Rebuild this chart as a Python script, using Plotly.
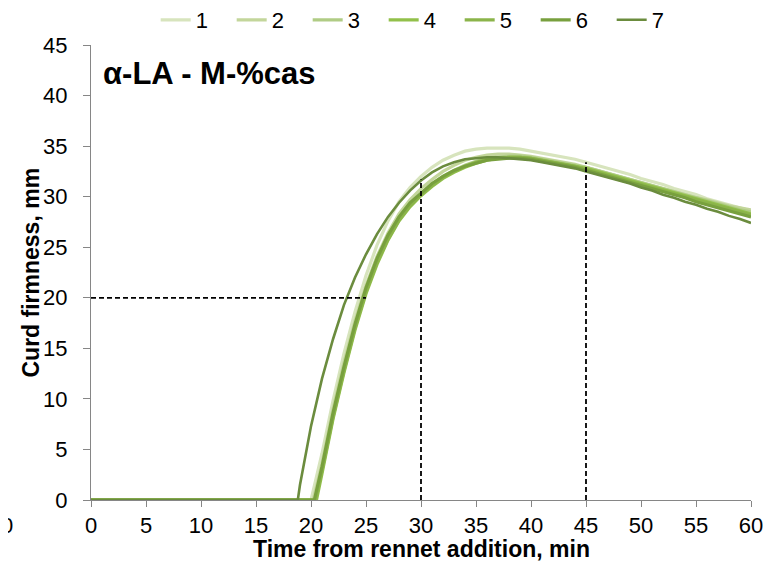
import math
import plotly.graph_objects as go

# ---------------- data ----------------
series_names = ["1", "2", "3", "4", "5", "6", "7"]
series_colors = ["#d7e4bd", "#c3d69b", "#b0cc85", "#92c04a", "#8bb44a", "#78a03e", "#6b8c3e"]

# onset (min) of curd formation for each series
onsets = [20.0, 20.2, 20.4, 20.5, 20.4, 20.3, 18.8]

# firmness (mm) from the first whole minute >= onset through 60 min
s1 = [0, 4.6, 9.8, 14.5, 18.6, 22.2, 25.2, 27.6, 29.5, 30.9, 32.0, 32.9, 33.6, 34.1, 34.5,
      34.7, 34.8, 34.8, 34.8, 34.7, 34.5, 34.3, 34.1, 33.9, 33.7, 33.4, 33.1, 32.8, 32.5, 32.2,
      31.8, 31.5, 31.2, 30.8, 30.5, 30.2, 29.8, 29.5, 29.2, 28.9, 28.6]
s2 = [3.6, 9.0, 13.6, 17.7, 21.2, 24.1, 26.4, 28.3, 29.7, 30.8, 31.7, 32.5, 33.1, 33.6, 33.9,
      34.1, 34.2, 34.2, 34.1, 34.0, 33.8, 33.6, 33.4, 33.2, 32.9, 32.6, 32.3, 32.0, 31.7, 31.4,
      31.1, 30.8, 30.5, 30.2, 29.9, 29.7, 29.4, 29.1, 28.9, 28.7]
s3 = [3.0, 8.4, 13.0, 17.2, 20.8, 23.7, 26.0, 27.9, 29.3, 30.3, 31.2, 32.0, 32.6, 33.1, 33.5,
      33.8, 33.9, 34.0, 34.0, 33.9, 33.7, 33.5, 33.3, 33.1, 32.9, 32.6, 32.3, 32.0, 31.7, 31.4,
      31.1, 30.8, 30.5, 30.2, 29.9, 29.6, 29.3, 29.0, 28.7, 28.5]
s4 = [2.6, 8.0, 12.6, 16.8, 20.4, 23.3, 25.7, 27.6, 29.0, 30.1, 31.0, 31.8, 32.4, 32.9, 33.3,
      33.6, 33.8, 33.9, 33.9, 33.8, 33.6, 33.4, 33.2, 33.0, 32.8, 32.5, 32.2, 31.9, 31.6, 31.3,
      31.0, 30.7, 30.4, 30.1, 29.8, 29.5, 29.2, 28.9, 28.6, 28.3]
s5 = [2.9, 8.2, 12.8, 17.0, 20.6, 23.5, 25.8, 27.7, 29.1, 30.2, 31.1, 31.9, 32.5, 33.0, 33.4,
      33.7, 33.8, 33.9, 33.9, 33.8, 33.6, 33.4, 33.2, 33.0, 32.7, 32.4, 32.1, 31.8, 31.5, 31.2,
      30.9, 30.6, 30.3, 30.0, 29.7, 29.4, 29.1, 28.8, 28.5, 28.2]
s6 = [3.3, 8.6, 13.2, 17.4, 21.0, 23.9, 26.2, 28.0, 29.4, 30.4, 31.3, 32.0, 32.6, 33.0, 33.3,
      33.6, 33.7, 33.8, 33.8, 33.7, 33.5, 33.3, 33.1, 32.9, 32.6, 32.3, 32.0, 31.7, 31.4, 31.1,
      30.8, 30.5, 30.2, 29.9, 29.5, 29.2, 28.9, 28.6, 28.3, 28.0]
s7 = [1.5, 7.3, 12.0, 15.9, 19.3, 22.0, 24.3, 26.3, 28.0, 29.4, 30.6, 31.6, 32.4, 33.0, 33.4,
      33.7, 33.8, 33.9, 33.9, 33.8, 33.7, 33.6, 33.4, 33.2, 33.0, 32.8, 32.5, 32.2, 31.9, 31.6,
      31.3, 30.9, 30.6, 30.2, 29.9, 29.5, 29.2, 28.8, 28.5, 28.1, 27.8, 27.4]
series_values = [s1, s2, s3, s4, s5, s6, s7]
series_widths = [3.2, 3.2, 3.2, 3.2, 3.2, 3.2, 2.6]

# reference (dashed) lines
ref_h_y = 20
ref_h_x = [0, 25]
ref_v_x = [30, 45]
ref_v_top = [31.7, 33.4]

x_ticks = list(range(0, 61, 5))
y_ticks = list(range(0, 46, 5))
title_text = "α-LA - M-%cas"
x_title = "Time from rennet addition, min"
y_title = "Curd firmness, mm"
stray_label = "0"

FONT = "Arial, 'Liberation Sans', sans-serif"
TICK_SIZE = 22

fig = go.Figure()

for name, color, onset, vals, w in zip(series_names, series_colors, onsets, series_values, series_widths):
    start = math.ceil(onset)
    xs = [0, onset] + list(range(start, start + len(vals)))
    ys = [0, 0] + vals
    fig.add_trace(go.Scatter(x=xs, y=ys, mode="lines", name=name,
                             line=dict(color=color, width=w)))

# dashed guide lines
dash_style = dict(color="black", width=1.8, dash="5px,3px")
fig.add_trace(go.Scatter(x=ref_h_x, y=[ref_h_y, ref_h_y], mode="lines", showlegend=False,
                         line=dash_style, hoverinfo="skip"))
for vx, vt in zip(ref_v_x, ref_v_top):
    fig.add_trace(go.Scatter(x=[vx, vx], y=[0, vt], mode="lines", showlegend=False,
                             line=dash_style, hoverinfo="skip"))

# the page body has an 8px margin, so the margins are offset by 8px
fig.update_layout(
    width=771, height=561,
    margin=dict(l=83, r=28, t=37, b=69, autoexpand=False),
    paper_bgcolor="white", plot_bgcolor="white",
    font=dict(family=FONT, size=TICK_SIZE, color="black"),
    showlegend=True,
    legend=dict(orientation="h", x=0.098, xanchor="left", y=1.055, yanchor="middle",
                font=dict(size=22), entrywidth=31, entrywidthmode="pixels",
                bgcolor="rgba(0,0,0,0)", itemclick=False, traceorder="normal"),
    annotations=[
        dict(text="<b>" + title_text + "</b>", xref="paper", yref="paper", x=0.015, y=0.938,
             xanchor="left", yanchor="middle", showarrow=False, font=dict(size=31)),
        dict(text="<b>" + x_title + "</b>", xref="paper", yref="paper", x=0.5, y=-0.108,
             xanchor="center", yanchor="middle", showarrow=False, font=dict(size=23)),
        dict(text="<b>" + y_title + "</b>", xref="paper", yref="paper", x=-0.0924, y=0.5,
             xanchor="center", yanchor="middle", showarrow=False, textangle=-90,
             font=dict(size=23)),
        dict(text=stray_label, xref="paper", yref="paper", x=-0.128, y=-0.055,
             xanchor="center", yanchor="middle", showarrow=False, font=dict(size=TICK_SIZE)),
    ],
)

fig.update_xaxes(range=[0, 60], tickvals=x_ticks, ticks="outside", ticklen=6, tickcolor="#868686",
                 showline=True, linecolor="#868686", linewidth=1, showgrid=False, zeroline=False,
                 automargin=False, tickfont=dict(size=TICK_SIZE), ticklabelstandoff=0)
fig.update_yaxes(range=[0, 45], tickvals=y_ticks, ticks="outside", ticklen=7, tickcolor="#868686",
                 showline=True, linecolor="#868686", linewidth=1, showgrid=False, zeroline=False,
                 automargin=False, tickfont=dict(size=TICK_SIZE), ticklabelstandoff=11)

fig.write_html("out.html")
